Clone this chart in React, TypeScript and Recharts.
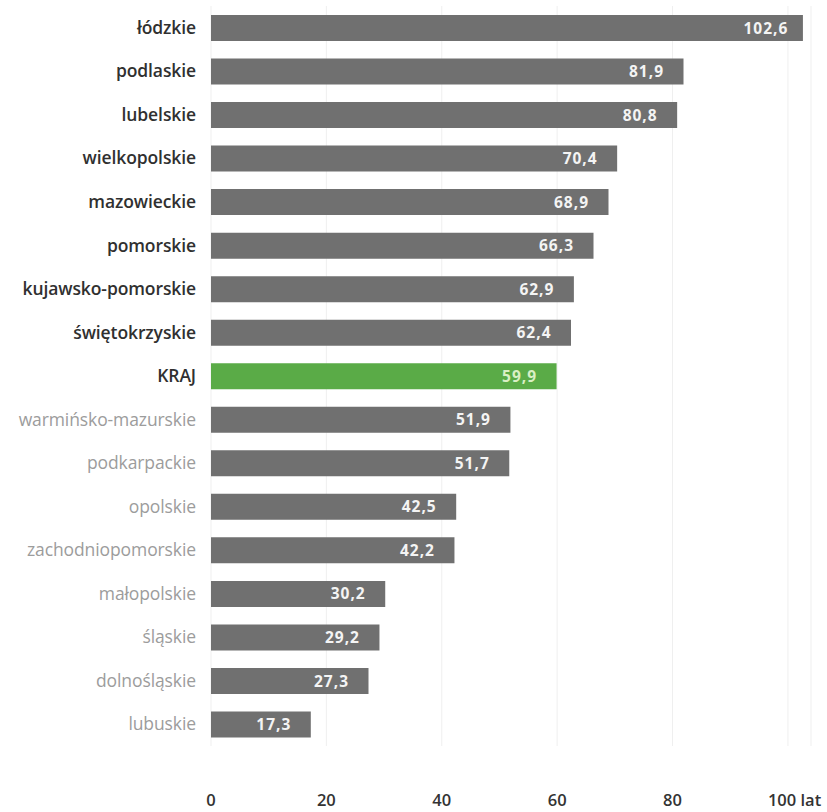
import React from 'react';
import { BarChart, Bar, XAxis, YAxis, CartesianGrid, Cell, LabelList } from 'recharts';

const regions = [
  'łódzkie', 'podlaskie', 'lubelskie', 'wielkopolskie', 'mazowieckie', 'pomorskie',
  'kujawsko-pomorskie', 'świętokrzyskie', 'KRAJ', 'warmińsko-mazurskie', 'podkarpackie',
  'opolskie', 'zachodniopomorskie', 'małopolskie', 'śląskie', 'dolnośląskie', 'lubuskie',
];
const values = [102.6, 81.9, 80.8, 70.4, 68.9, 66.3, 62.9, 62.4, 59.9, 51.9, 51.7, 42.5, 42.2, 30.2, 29.2, 27.3, 17.3];
const xTicks = [0, 20, 40, 60, 80, 100];
const aboveAverageCount = 9;

const data = regions.map((name, i) => ({ name, value: values[i] }));

const FONT = '"Open Sans", "Noto Sans", sans-serif';

const YTick = (props: any) => {
  const { x, y, payload, index } = props;
  const strong = index < aboveAverageCount;
  return (
    <text x={x - 7} y={y} dy="0.35em" textAnchor="end" fontFamily={FONT} fontSize={17.5}
      fontWeight={strong ? 600 : 400} fill={strong ? '#303030' : '#9c9c9c'} letterSpacing={-0.1}>
      {payload.value}
    </text>
  );
};

const XTick = (props: any) => {
  const { x, payload } = props;
  const isLast = payload.value === 100;
  return (
    <text x={isLast ? x - 20 : x} y={806} textAnchor={isLast ? 'start' : 'middle'} fontFamily={FONT}
      fontSize={16.5} fontWeight={600} fill="#333333">
      {isLast ? '100 lat' : payload.value}
    </text>
  );
};

const ValueLabel = (props: any) => {
  const { x, y, width, height, value, index } = props;
  const green = regions[index] === 'KRAJ';
  return (
    <text x={x + width - 37} y={y + height / 2} dy="0.36em" textAnchor="middle" fontFamily={FONT}
      fontSize={15.5} fontWeight={700} letterSpacing={1} fill={green ? '#d9efc4' : '#f4f4f4'}>
      {String(value).replace('.', ',')}
    </text>
  );
};

export default function App() {
  return (
    <div style={{ position: 'absolute', left: 0, top: 0, width: 827, height: 812, background: '#fff' }}>
      <BarChart width={827} height={812} data={data} layout="vertical"
        margin={{ top: 6, right: 16, bottom: 36, left: 0 }} barCategoryGap={19}>
        <CartesianGrid horizontal={false} stroke="#efefef" />
        <XAxis type="number" domain={[0, 104]} ticks={xTicks} axisLine={false} tickLine={false}
          tick={<XTick />} interval={0} />
        <YAxis type="category" dataKey="name" width={211} axisLine={false} tickLine={false}
          tick={<YTick />} interval={0} />
        <Bar dataKey="value" isAnimationActive={false} barSize={26}>
          {data.map((d) => (
            <Cell key={d.name} fill={d.name === 'KRAJ' ? '#5aab47' : '#707070'} />
          ))}
          <LabelList dataKey="value" content={<ValueLabel />} />
        </Bar>
      </BarChart>
    </div>
  );
}
